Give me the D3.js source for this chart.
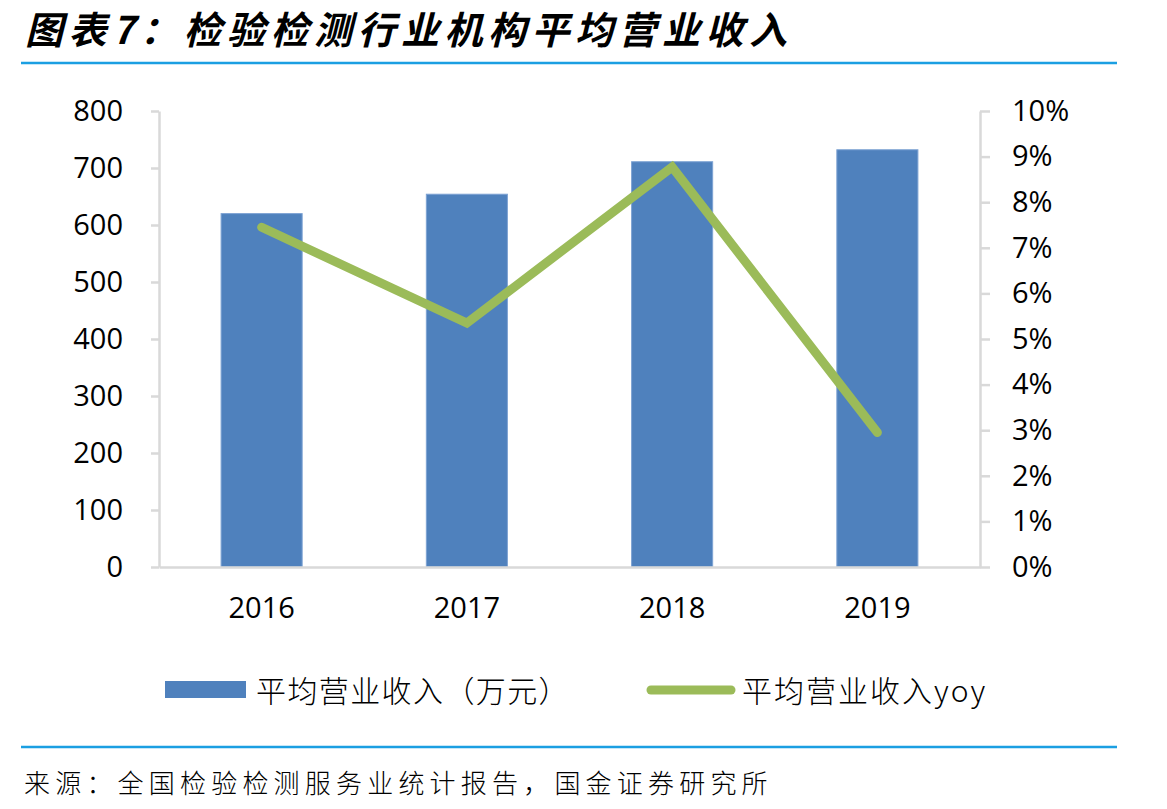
<!DOCTYPE html>
<html>
<head>
<meta charset="utf-8">
<script src="https://cdn.jsdelivr.net/npm/d3@7"></script>
<style>
  body { margin: 0; background: #fff; }
  svg { display: block; }
</style>
</head>
<body>
<svg id="chart"></svg>
<script>
// chart data
const years = ['2016', '2017', '2018', '2019']
const revenue = [620, 654, 711, 732]          // 平均营业收入（万元）
const revenueYoy = [0.0745, 0.0535, 0.0877, 0.0295]  // 平均营业收入yoy
const leftTicks = [0, 100, 200, 300, 400, 500, 600, 700, 800]
const rightTicks = [0, 0.01, 0.02, 0.03, 0.04, 0.05, 0.06, 0.07, 0.08, 0.09, 0.10]

const titleText = '图表7：检验检测行业机构平均营业收入'
const sourceText = '来源：全国检验检测服务业统计报告，国金证券研究所'
const barLabel = '平均营业收入（万元）'
const lineLabel = '平均营业收入yoy'

const W = 1167, H = 809
const plot = { left: 159, right: 980, top: 111, bottom: 567 }
const blue = '#4F81BD', green = '#9BBB59', axisGrey = '#D9D9D9', rule = '#1b9fe2'
const numFont = '"Open Sans", "Liberation Sans", sans-serif'
const cjkFont = '"Noto Sans CJK SC", sans-serif'

const svg = d3.select('#chart')
    .attr('width', W)
    .attr('height', H)

// title + rules
svg.append('text')
    .attr('x', 25)
    .attr('y', 27)
    .attr('dominant-baseline', 'central')
    .attr('font-family', cjkFont)
    .attr('font-weight', 'bold')
    .attr('font-style', 'italic')
    .attr('font-size', 38)
    .attr('letter-spacing', 5.5)
    .attr('fill', '#000')
    .text(titleText)

svg.append('line')
    .attr('x1', 21).attr('x2', 1117)
    .attr('y1', 63).attr('y2', 63)
    .attr('stroke', rule).attr('stroke-width', 2.5)

svg.append('line')
    .attr('x1', 21).attr('x2', 1117)
    .attr('y1', 747).attr('y2', 747)
    .attr('stroke', rule).attr('stroke-width', 2.5)

svg.append('text')
    .attr('x', 24)
    .attr('y', 781)
    .attr('dominant-baseline', 'central')
    .attr('font-family', cjkFont)
    .attr('font-weight', 300)
    .attr('font-size', 26)
    .attr('letter-spacing', 5.2)
    .attr('fill', '#000')
    .text(sourceText)

// scales
const xScale = d3.scaleBand()
    .domain(years)
    .range([plot.left, plot.right])
    .paddingInner(0.605)
    .paddingOuter(0.3025)

const yLeft = d3.scaleLinear()
    .domain([0, 800])
    .range([plot.bottom, plot.top])

const yRight = d3.scaleLinear()
    .domain([0, 0.10])
    .range([plot.bottom, plot.top])

// axes
const leftAxis = d3.axisLeft(yLeft)
    .tickValues(leftTicks)
    .tickSize(8)
    .tickSizeOuter(0)
    .tickPadding(28)

const rightAxis = d3.axisRight(yRight)
    .tickValues(rightTicks)
    .tickFormat(d3.format('.0%'))
    .tickSize(10)
    .tickSizeOuter(0)
    .tickPadding(22)

const bottomAxis = d3.axisBottom(xScale)
    .tickSize(0)
    .tickSizeOuter(0)
    .tickPadding(30)

function styleAxis(g) {
    g.select('.domain').attr('stroke', axisGrey).attr('stroke-width', 2.5)
    g.selectAll('.tick line').attr('stroke', axisGrey).attr('stroke-width', 2.5)
    g.selectAll('.tick text')
        .attr('fill', '#000')
        .attr('font-family', numFont)
        .attr('font-size', 29)
}

svg.append('g')
    .attr('transform', `translate(${plot.left}, 0)`)
    .call(leftAxis)
    .call(styleAxis)

svg.append('g')
    .attr('transform', `translate(${plot.right}, 0)`)
    .call(rightAxis)
    .call(styleAxis)

// bars
svg.append('g')
    .selectAll('rect')
    .data(revenue)
    .join('rect')
        .attr('x', (d, i) => xScale(years[i]))
        .attr('y', d => yLeft(d))
        .attr('width', xScale.bandwidth())
        .attr('height', d => yLeft(0) - yLeft(d))
        .attr('fill', blue)
        .attr('stroke', '#7ea3d3')
        .attr('stroke-width', 1)

svg.append('g')
    .attr('transform', `translate(0, ${plot.bottom})`)
    .call(bottomAxis)
    .call(styleAxis)

// yoy line
const line = d3.line()
    .x((d, i) => xScale(years[i]) + xScale.bandwidth() / 2)
    .y(d => yRight(d))

svg.append('path')
    .datum(revenueYoy)
    .attr('d', line)
    .attr('fill', 'none')
    .attr('stroke', green)
    .attr('stroke-width', 9)
    .attr('stroke-linecap', 'round')
    .attr('stroke-linejoin', 'miter')

// legend
const legend = svg.append('g')

legend.append('rect')
    .attr('x', 165).attr('y', 681)
    .attr('width', 81).attr('height', 17)
    .attr('fill', blue)

legend.append('text')
    .attr('x', 256).attr('y', 689)
    .attr('dominant-baseline', 'central')
    .attr('font-family', cjkFont)
    .attr('font-weight', 300)
    .attr('font-size', 30)
    .attr('letter-spacing', 1.4)
    .attr('fill', '#000')
    .text(barLabel)

legend.append('line')
    .attr('x1', 651).attr('x2', 731)
    .attr('y1', 690).attr('y2', 690)
    .attr('stroke', green)
    .attr('stroke-width', 9)
    .attr('stroke-linecap', 'round')

legend.append('text')
    .attr('x', 742).attr('y', 689)
    .attr('dominant-baseline', 'central')
    .attr('font-family', cjkFont)
    .attr('font-weight', 300)
    .attr('font-size', 30)
    .attr('letter-spacing', 2)
    .attr('fill', '#000')
    .text(lineLabel)
</script>
</body>
</html>
